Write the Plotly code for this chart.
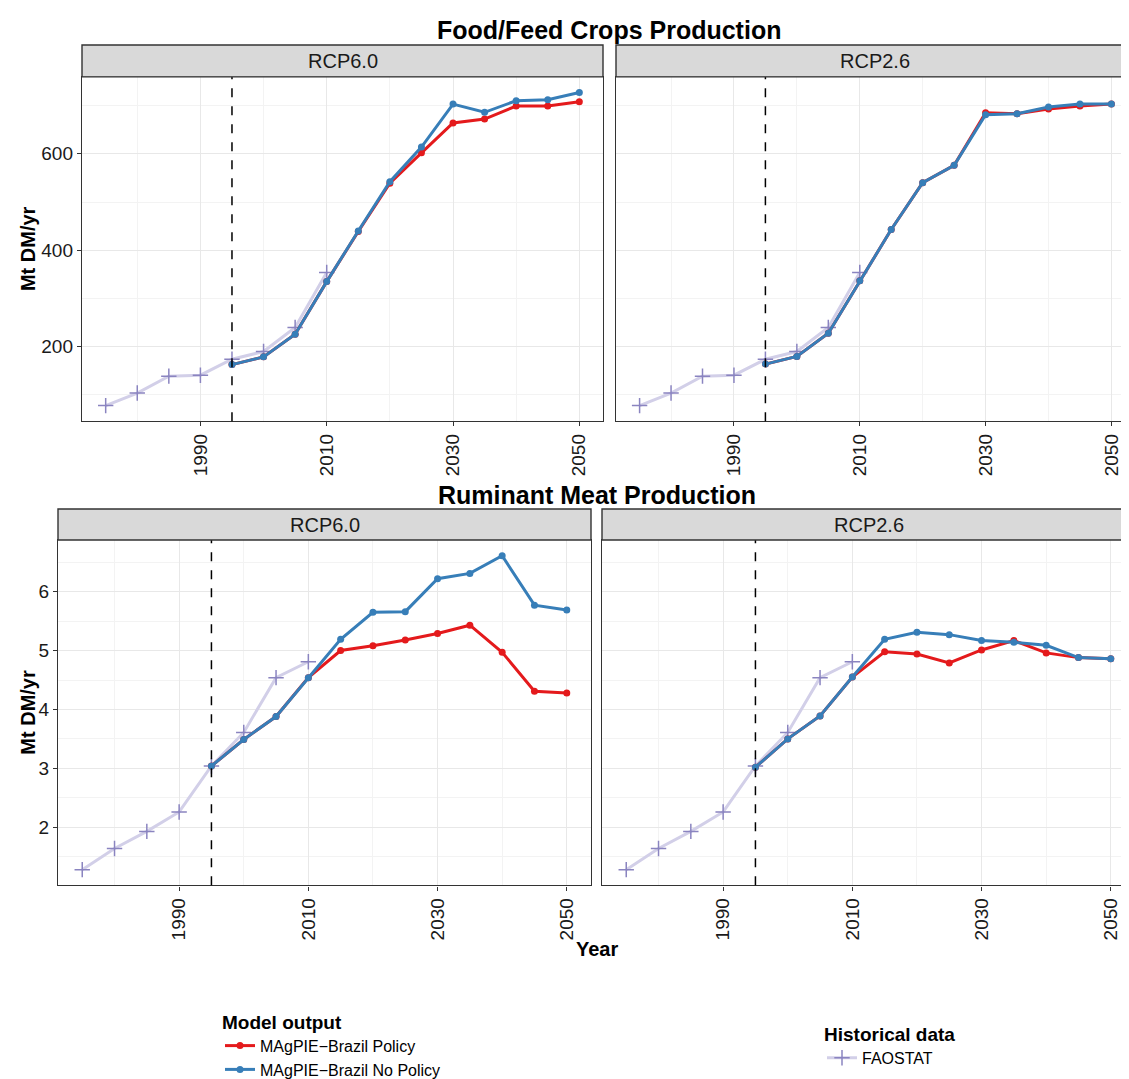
import plotly.graph_objects as go

# ---------------- data ----------------
years_hist = [1975, 1980, 1985, 1990, 1995, 2000, 2005, 2010]
years_model = [1995, 2000, 2005, 2010, 2015, 2020, 2025, 2030, 2035, 2040, 2045, 2050]

crops_faostat = [78, 104, 139, 141, 174, 190, 240, 354]
crops_rcp60_policy = [163, 179, 226, 335, 439, 539, 602, 664, 672, 699, 699, 708]
crops_rcp60_nopolicy = [163, 179, 226, 335, 440, 542, 614, 703, 686, 710, 712, 727]
crops_rcp26_policy = [164, 180, 228, 337, 443, 540, 576, 685, 683, 693, 699, 703]
crops_rcp26_nopolicy = [164, 180, 228, 337, 443, 540, 576, 681, 683, 697, 703, 703]

meat_faostat = [1.28, 1.64, 1.93, 2.26, 3.04, 3.61, 4.54, 4.81]
meat_rcp60_policy = [3.04, 3.49, 3.88, 4.54, 5.00, 5.08, 5.18, 5.29, 5.43, 4.97, 4.31, 4.28]
meat_rcp60_nopolicy = [3.04, 3.49, 3.88, 4.54, 5.19, 5.65, 5.66, 6.22, 6.31, 6.61, 5.77, 5.69]
meat_rcp26_policy = [3.02, 3.50, 3.89, 4.55, 4.98, 4.94, 4.79, 5.01, 5.17, 4.96, 4.88, 4.86]
meat_rcp26_nopolicy = [3.02, 3.50, 3.89, 4.55, 5.19, 5.31, 5.27, 5.17, 5.14, 5.09, 4.88, 4.86]

scenarios = ["RCP6.0", "RCP2.6"]
x_ticks = [1990, 2010, 2030, 2050]
x_minor = [1980, 2000, 2020, 2040]
crops_ticks = [200, 400, 600]
crops_minor = [100, 300, 500, 700]
meat_ticks = [1, 2, 3, 4, 5, 6]
meat_minor = [1.5, 2.5, 3.5, 4.5, 5.5, 6.5]
policy_year = 1995

row_titles = ["Food/Feed Crops Production", "Ruminant Meat Production"]
y_title = "Mt DM/yr"
x_title = "Year"
name_policy = "MAgPIE\u2212Brazil Policy"
name_nopolicy = "MAgPIE\u2212Brazil No Policy"
name_hist = "FAOSTAT"

# ---------------- styling ----------------
W, H = 1129, 1079
FONT = "Liberation Sans, Arial, Helvetica, sans-serif"
RED = "#E41A1C"
BLUE = "#377EB8"
HIST_LINE = "#d2cfe8"
HIST_MARK = "#8a84c0"
BORDER = "#333333"
GRID = "#e8e8e8"
GRID_MINOR = "#f3f3f3"


def fx(p):
    return p / W


def fy(p):
    return 1 - p / H


def expand(vals):
    lo, hi = min(vals), max(vals)
    d = (hi - lo) * 0.05
    return [lo - d, hi + d]


x_range = expand(years_hist + years_model)

rows = [
    dict(title=row_titles[0], title_y=22, strip=(37, 69), plot=(69, 414),
         cols=[(74, 595), (608, 1127)],
         hist=crops_faostat,
         data=[(crops_rcp60_policy, crops_rcp60_nopolicy), (crops_rcp26_policy, crops_rcp26_nopolicy)],
         ticks=crops_ticks, minor=crops_minor),
    dict(title=row_titles[1], title_y=488, strip=(502, 533), plot=(533, 879),
         cols=[(50, 583), (594, 1127)],
         hist=meat_faostat,
         data=[(meat_rcp60_policy, meat_rcp60_nopolicy), (meat_rcp26_policy, meat_rcp26_nopolicy)],
         ticks=meat_ticks, minor=meat_minor),
]

fig = go.Figure()
shapes = []
annotations = []
layout_axes = {}

k = 0
for r, row in enumerate(rows):
    all_vals = list(row["hist"])
    for pol, nop in row["data"]:
        all_vals += list(pol) + list(nop)
    y_range = expand(all_vals)
    for c, (x0, x1) in enumerate(row["cols"]):
        k += 1
        xa = "x" if k == 1 else f"x{k}"
        ya = "y" if k == 1 else f"y{k}"
        xname = "xaxis" if k == 1 else f"xaxis{k}"
        yname = "yaxis" if k == 1 else f"yaxis{k}"
        first = (k == 1)
        pol, nop = row["data"][c]

        fig.add_trace(go.Scatter(
            x=years_hist, y=row["hist"], mode="lines+markers", name=name_hist,
            line=dict(color=HIST_LINE, width=3),
            marker=dict(symbol="cross-thin", size=11, line=dict(color=HIST_MARK, width=1.5), color=HIST_MARK),
            xaxis=xa, yaxis=ya, showlegend=first, legend="legend2"))
        fig.add_trace(go.Scatter(
            x=years_model, y=pol, mode="lines+markers", name=name_policy,
            line=dict(color=RED, width=3), marker=dict(symbol="circle", size=7, color=RED),
            xaxis=xa, yaxis=ya, showlegend=first, legend="legend"))
        fig.add_trace(go.Scatter(
            x=years_model, y=nop, mode="lines+markers", name=name_nopolicy,
            line=dict(color=BLUE, width=3), marker=dict(symbol="circle", size=7, color=BLUE),
            xaxis=xa, yaxis=ya, showlegend=first, legend="legend"))

        py0, py1 = row["plot"]
        layout_axes[xname] = dict(
            domain=[fx(x0), fx(x1)], anchor=ya, range=x_range,
            tickmode="array", tickvals=x_ticks, ticktext=[str(v) for v in x_ticks],
            tickangle=-90, ticks="outside", ticklen=4, tickwidth=1.2, tickcolor=BORDER,
            tickfont=dict(family=FONT, size=19, color="#1a1a1a"),
            showgrid=True, gridcolor=GRID, gridwidth=1.2,
            minor=dict(tickmode="array", tickvals=x_minor, showgrid=True, gridcolor=GRID_MINOR, gridwidth=0.8, ticklen=0),
            showline=True, mirror=True, linecolor=BORDER, linewidth=1.4,
            zeroline=False, fixedrange=True)
        layout_axes[yname] = dict(
            domain=[fy(py1), fy(py0)], anchor=xa, range=y_range,
            tickmode="array", tickvals=row["ticks"], ticktext=[str(v) for v in row["ticks"]],
            ticks="outside" if c == 0 else "", ticklen=4, tickwidth=1.2, tickcolor=BORDER,
            showticklabels=(c == 0),
            tickfont=dict(family=FONT, size=19, color="#1a1a1a"),
            showgrid=True, gridcolor=GRID, gridwidth=1.2,
            minor=dict(tickmode="array", tickvals=row["minor"], showgrid=True, gridcolor=GRID_MINOR, gridwidth=0.8, ticklen=0),
            showline=True, mirror=True, linecolor=BORDER, linewidth=1.4,
            zeroline=False, fixedrange=True)

        # dashed policy line
        shapes.append(dict(type="line", xref=xa, yref=f"{ya} domain", x0=policy_year, x1=policy_year,
                           y0=0, y1=1, line=dict(color="black", width=1.5, dash="dash"), layer="above"))
        # strip
        sy0, sy1 = row["strip"]
        shapes.append(dict(type="rect", xref="paper", yref="paper", x0=fx(x0), x1=fx(x1),
                           y0=fy(sy1), y1=fy(sy0), fillcolor="#d9d9d9",
                           line=dict(color=BORDER, width=1.4), layer="above"))
        annotations.append(dict(text=scenarios[c], xref="paper", yref="paper",
                                x=fx((x0 + x1) / 2), y=fy((sy0 + sy1) / 2),
                                xanchor="center", yanchor="middle", showarrow=False,
                                font=dict(family=FONT, size=20, color="#1a1a1a")))

    # row title
    left = row["cols"][0][0]
    right = row["cols"][-1][1]
    annotations.append(dict(text=f"<b>{row['title']}</b>", xref="paper", yref="paper",
                            x=fx((left + right) / 2), y=fy(row["title_y"]),
                            xanchor="center", yanchor="middle", showarrow=False,
                            font=dict(family=FONT, size=25, color="black")))
    # y title
    py0, py1 = row["plot"]
    annotations.append(dict(text=f"<b>{y_title}</b>", xref="paper", yref="paper",
                            x=fx(20), y=fy((py0 + py1) / 2), textangle=-90,
                            xanchor="center", yanchor="middle", showarrow=False,
                            font=dict(family=FONT, size=20, color="black")))

# x title
annotations.append(dict(text=f"<b>{x_title}</b>", xref="paper", yref="paper",
                        x=fx((50 + 1127) / 2), y=fy(943), xanchor="center", yanchor="middle",
                        showarrow=False, font=dict(family=FONT, size=20, color="black")))

fig.update_layout(
    width=W, height=H,
    margin=dict(l=0, r=0, t=0, b=0),
    paper_bgcolor="white", plot_bgcolor="white",
    font=dict(family=FONT, color="black"),
    shapes=shapes, annotations=annotations,
    legend=dict(title=dict(text="<b>Model output</b>", font=dict(family=FONT, size=19), side="top"),
                x=fx(212), y=fy(998), xanchor="left", yanchor="top",
                orientation="v", font=dict(family=FONT, size=16), tracegroupgap=0,
                bgcolor="rgba(0,0,0,0)", itemwidth=30),
    legend2=dict(title=dict(text="<b>Historical data</b>", font=dict(family=FONT, size=19), side="top"),
                 x=fx(814), y=fy(1010), xanchor="left", yanchor="top",
                 orientation="v", font=dict(family=FONT, size=16),
                 bgcolor="rgba(0,0,0,0)", itemwidth=30),
    **layout_axes,
)

fig.write_html("out.html")
